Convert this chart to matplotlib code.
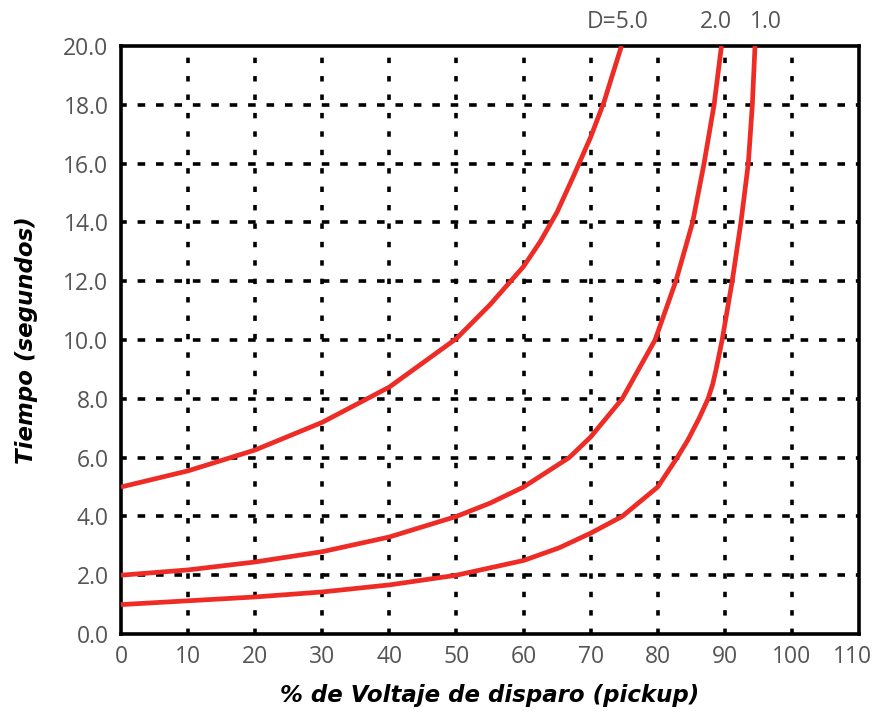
import matplotlib
matplotlib.use("Agg")
from matplotlib import pyplot as plt
from matplotlib.transforms import offset_copy, ScaledTranslation

# % of pickup voltage (x) and trip time in seconds (y)
x_d5 = [0, 10, 20, 30, 40, 50, 55, 60, 62.5, 65, 67.5, 70, 72, 73.5, 74.6]
t_d5 = [5.0, 5.55, 6.26, 7.2, 8.4, 10.05, 11.2, 12.5, 13.35, 14.35, 15.6, 16.9, 18.1, 19.2, 20.0]

x_d2 = [0, 10, 20, 30, 40, 50, 55, 60, 66.8, 70, 74.7, 79.6, 82.7, 85.2, 86.9, 88.4, 89.5]
t_d2 = [2.0, 2.18, 2.45, 2.8, 3.3, 4.0, 4.45, 5.0, 6.0, 6.7, 8.0, 10.0, 12.0, 14.0, 16.0, 18.0, 20.0]

x_d1 = [0, 10, 20, 30, 40, 50, 60, 65.3, 70, 74.7, 80, 82.9, 84.5, 86.2, 87.5, 88.2, 88.7,
        89.6, 91.1, 92.4, 93.5, 94.1, 94.5]
t_d1 = [1.0, 1.13, 1.26, 1.43, 1.67, 2.0, 2.5, 2.93, 3.43, 4.0, 5.0, 6.0, 6.6, 7.35, 8.0, 8.5, 9.0,
        10.0, 12.0, 14.0, 16.0, 18.0, 20.0]

curve_labels = ["D=5.0", "2.0", "1.0"]
label_x = [74, 88.7, 96.2]

x_ticks = list(range(0, 111, 10))
y_ticks = [0, 2, 4, 6, 8, 10, 12, 14, 16, 18, 20]

RED = "#ee2b24"
GRAY = "#555555"
TICK_FONT = "Open Sans"

fig = plt.figure(figsize=(8.74, 7.13), dpi=100)
ax = fig.add_axes([121 / 874, 79 / 713, 738 / 874, 588 / 713])

# grid lines drawn by hand so the two directions get different dashes
for xv in x_ticks[1:-1]:
    ax.axvline(xv, color="black", lw=2.6, ls=(0, (1.5, 3.6)), zorder=1)
for yv in y_ticks[1:-1]:
    ax.axhline(yv, color="black", lw=2.6, ls=(0.5, (2.1, 3.0)), zorder=1)

for xs, ts in [(x_d5, t_d5), (x_d2, t_d2), (x_d1, t_d1)]:
    ax.plot(xs, ts, color=RED, lw=3.4, solid_joinstyle="round",
            solid_capstyle="butt", zorder=3)

ax.set_xlim(0, 110)
ax.set_ylim(0, 20)
ax.set_xticks(x_ticks)
ax.set_yticks(y_ticks)
ax.set_yticklabels([f"{v:.1f}" for v in y_ticks])
ax.tick_params(length=0, labelsize=16.5, labelcolor=GRAY)
ax.tick_params(axis="y", pad=9)
ax.tick_params(axis="x", pad=8)
for lab in ax.get_xticklabels() + ax.get_yticklabels():
    lab.set_family(TICK_FONT)
# last x label sits a little left of the corner in the original
last = ax.get_xticklabels()[-1]
last.set_transform(last.get_transform() + ScaledTranslation(-7 / 100, 0, fig.dpi_scale_trans))
for sp in ax.spines.values():
    sp.set_linewidth(2.6)

trans = offset_copy(ax.transData, fig=fig, x=0, y=24, units="dots")
for lx, lab in zip(label_x, curve_labels):
    ax.text(lx, 20, lab, transform=trans, ha="center", va="center",
            fontsize=16.5, color=GRAY, family=TICK_FONT, clip_on=False)

ax.set_xlabel("% de Voltaje de disparo (pickup)", fontsize=16.5, fontweight="bold",
              fontstyle="italic", family="DejaVu Sans", labelpad=11)
ax.set_ylabel("Tiempo (segundos)", fontsize=16.5, fontweight="bold",
              fontstyle="italic", family="DejaVu Sans", labelpad=18)

fig.savefig("out.png", dpi=100)
